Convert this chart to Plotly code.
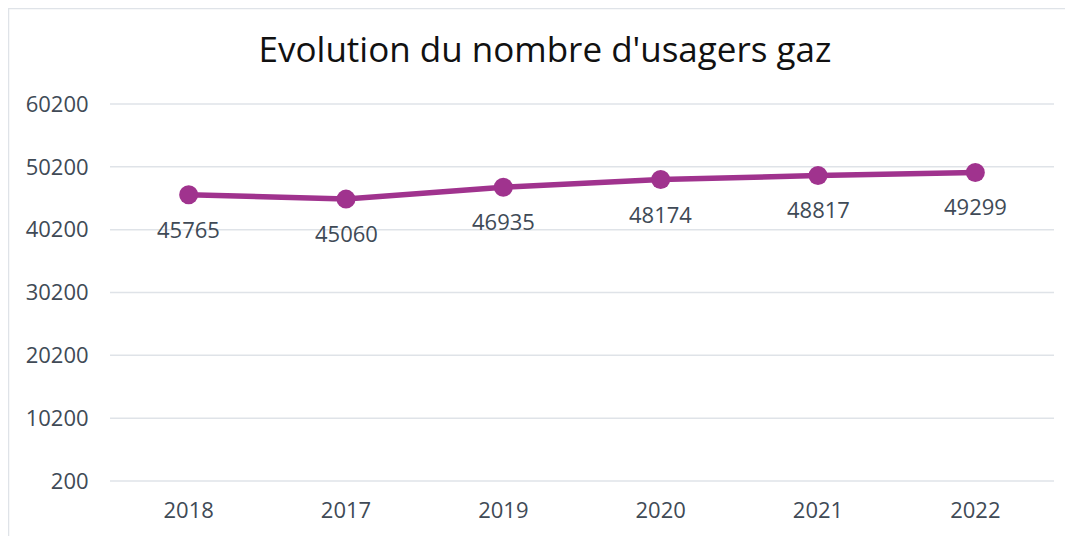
import plotly.graph_objects as go

categories = ["2018", "2017", "2019", "2020", "2021", "2022"]
values = [45765, 45060, 46935, 48174, 48817, 49299]
y_ticks = [200, 10200, 20200, 30200, 40200, 50200, 60200]
title_text = "Evolution du nombre d'usagers gaz"

# page has an 8px body margin, so figure coords = page coords - 8
W, H = 1065, 528
L, R, T, B = 102, 19, 95, 54
pw, ph = W - L - R, H - T - B

line_color = "#A0338E"
text_color = "#404a56"
grid_color = "#dfe3e8"
font_family = "Open Sans, sans-serif"

fig = go.Figure()
fig.add_trace(go.Scatter(
    x=categories, y=values,
    mode="lines+markers",
    line=dict(color=line_color, width=5.5),
    marker=dict(color=line_color, size=19),
    showlegend=False,
    hoverinfo="skip",
))

annotations = [
    dict(x=i, y=v, xref="x", yref="y", text=str(v), showarrow=False,
         yshift=-34, font=dict(family=font_family, size=22, color=text_color))
    for i, v in enumerate(values)
]

grid_shapes = [
    dict(type="line", xref="paper", yref="y", x0=0, x1=1, y0=t, y1=t,
         line=dict(color=grid_color, width=1.5), layer="below")
    for t in y_ticks
]

border_shapes = [
    dict(type="line", xref="paper", yref="paper",
         x0=(0 - L) / pw, x1=(W + 5 - L) / pw, y0=1 + (T - 0.5) / ph, y1=1 + (T - 0.5) / ph,
         line=dict(color=grid_color, width=1.5)),
    dict(type="line", xref="paper", yref="paper",
         x0=(0.5 - L) / pw, x1=(0.5 - L) / pw, y0=1 + T / ph, y1=-(B + 5) / ph,
         line=dict(color=grid_color, width=1.5)),
]

fig.update_layout(
    width=W, height=H,
    margin=dict(l=L, r=R, t=T, b=B),
    paper_bgcolor="white", plot_bgcolor="white",
    title=dict(text=title_text, x=537 / W, xanchor="center", y=1 - 42 / H, yanchor="middle",
               font=dict(family=font_family, size=35, color="#111111")),
    xaxis=dict(type="category", categoryorder="array", categoryarray=categories,
               range=[-0.5, len(categories) - 0.5],
               showgrid=False, showline=False, zeroline=False,
               tickfont=dict(family=font_family, size=22, color=text_color),
               ticks="outside", ticklen=9, tickcolor="rgba(0,0,0,0)"),
    yaxis=dict(range=[50, 60350], tickvals=y_ticks, ticktext=[str(v) for v in y_ticks],
               showgrid=False, zeroline=False, showline=False,
               tickfont=dict(family=font_family, size=22, color=text_color),
               ticks="outside", ticklen=16, tickcolor="rgba(0,0,0,0)"),
    annotations=annotations,
    shapes=grid_shapes + border_shapes,
)

fig.write_html("out.html")
